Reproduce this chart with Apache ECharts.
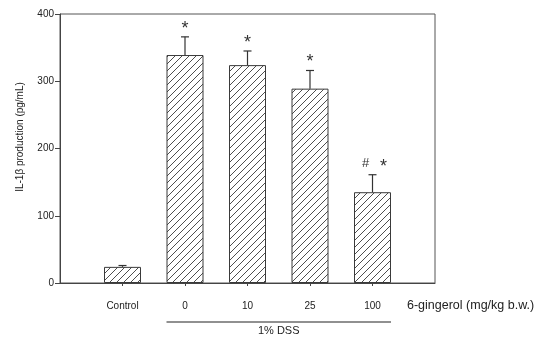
<!DOCTYPE html>
<html><head><meta charset="utf-8">
<script src="https://cdn.jsdelivr.net/npm/echarts@6/dist/echarts.min.js"></script>
<style>html,body{margin:0;padding:0;background:#fff}#c{width:537px;height:341px}</style>
</head><body><div id="c"></div>
<script>
const categories = ['Control', '0', '10', '25', '100'];
const means = [24, 339, 324, 289, 135];
const errors = [2, 27, 21, 27, 26];
const starMarks = [false, true, true, true, true];
const hashMarks = [false, false, false, false, true];
const yTicks = [0, 100, 200, 300, 400];
const xName = '6-gingerol (mg/kg b.w.)';
const yName = 'IL-1\u03b2 production (pg/mL)';
const groupLabel = '1% DSS';

const FONT = 'Arial, "Liberation Sans", sans-serif';
const axisCats = [''].concat(categories, ['']);

// hatch pattern
const pc = document.createElement('canvas');
pc.width = 7; pc.height = 7;
const g = pc.getContext('2d');
g.fillStyle = '#fff'; g.fillRect(0, 0, 7, 7);
g.strokeStyle = '#3a3a3a'; g.lineWidth = 0.9;
g.beginPath();
g.moveTo(0, 7); g.lineTo(7, 0);
g.moveTo(-1, 1); g.lineTo(1, -1);
g.moveTo(6, 8); g.lineTo(8, 6);
g.stroke();

const barData = means.map((v, i) => [i + 1, v]);
const errData = means.map((v, i) => [i + 1, v, errors[i]]);

const chart = echarts.init(document.getElementById('c'), null, {renderer: 'canvas'});
const option = {
  animation: false,
  grid: {left: 60, right: 102, top: 14, bottom: 58, show: true, borderColor: '#555', borderWidth: 1, backgroundColor: 'transparent'},
  xAxis: {
    type: 'category', data: axisCats, boundaryGap: false,
    axisLine: {lineStyle: {color: '#444', width: 1}},
    axisTick: {show: true, length: 3, inside: false, lineStyle: {color: '#444'},
      interval: (idx) => idx >= 1 && idx <= categories.length},
    axisLabel: {color: '#222', fontSize: 10, fontFamily: FONT, margin: 18, interval: 0},
    splitLine: {show: false}
  },
  yAxis: {
    type: 'value', min: yTicks[0], max: yTicks[yTicks.length - 1], interval: 100,
    axisLine: {show: true, lineStyle: {color: '#444', width: 1}},
    axisTick: {show: true, length: 5, lineStyle: {color: '#444'}},
    axisLabel: {color: '#222', fontSize: 10, fontFamily: FONT, margin: 6},
    splitLine: {show: false}
  },
  series: [
    {
      type: 'bar', data: barData, barWidth: 37,
      itemStyle: {color: {image: pc, repeat: 'repeat'}, borderColor: '#3a3a3a', borderWidth: 1},
      z: 2
    },
    {
      type: 'custom', data: errData, z: 3,
      renderItem: function (params, api) {
        const x = api.value(0), y = api.value(1), e = api.value(2);
        const p0 = api.coord([x, y]);
        const p1 = api.coord([x, y + e]);
        const i = params.dataIndex;
        const children = [
          {type: 'line', shape: {x1: p0[0], y1: p0[1], x2: p1[0], y2: p1[1]}, style: {stroke: '#333', lineWidth: 1.2}},
          {type: 'line', shape: {x1: p1[0] - 4, y1: p1[1], x2: p1[0] + 4, y2: p1[1]}, style: {stroke: '#333', lineWidth: 1.2}}
        ];
        const hash = hashMarks[i];
        if (starMarks[i]) {
          children.push({type: 'text', style: {text: '*', x: p1[0] + (hash ? 11 : 0), y: p1[1] + 1, align: 'center', verticalAlign: 'bottom',
            fill: '#333', font: '18px ' + FONT}});
        }
        if (hash) {
          children.push({type: 'text', style: {text: '#', x: p1[0] - 7, y: p1[1] - 5, align: 'center', verticalAlign: 'bottom',
            fill: '#333', font: '13px ' + FONT}});
        }
        return {type: 'group', children: children};
      }
    }
  ]
};
chart.setOption(option);

const left = chart.convertToPixel({gridIndex: 0}, [1 + 1, 0]);
const right = chart.convertToPixel({gridIndex: 0}, [categories.length, 0]);
const axisEnd = chart.convertToPixel({gridIndex: 0}, [axisCats.length - 1, 0]);
chart.setOption({
  graphic: [
    {type: 'text', x: axisEnd[0] - 28, y: 306, style: {text: xName, fill: '#222', font: '12.5px ' + FONT, verticalAlign: 'middle', align: 'left'}},
    {type: 'line', shape: {x1: left[0] - 18.5, y1: 322, x2: right[0] + 18.5, y2: 322}, style: {stroke: '#222', lineWidth: 1.2}},
    {type: 'text', x: (left[0] + right[0]) / 2, y: 331, style: {text: groupLabel, fill: '#222', font: '11px ' + FONT, align: 'center', verticalAlign: 'middle'}},
    {type: 'text', x: 20, y: 137, rotation: Math.PI / 2, style: {text: yName, fill: '#222', font: '10px ' + FONT, align: 'center', verticalAlign: 'middle'}}
  ]
});
</script>
</body></html>
